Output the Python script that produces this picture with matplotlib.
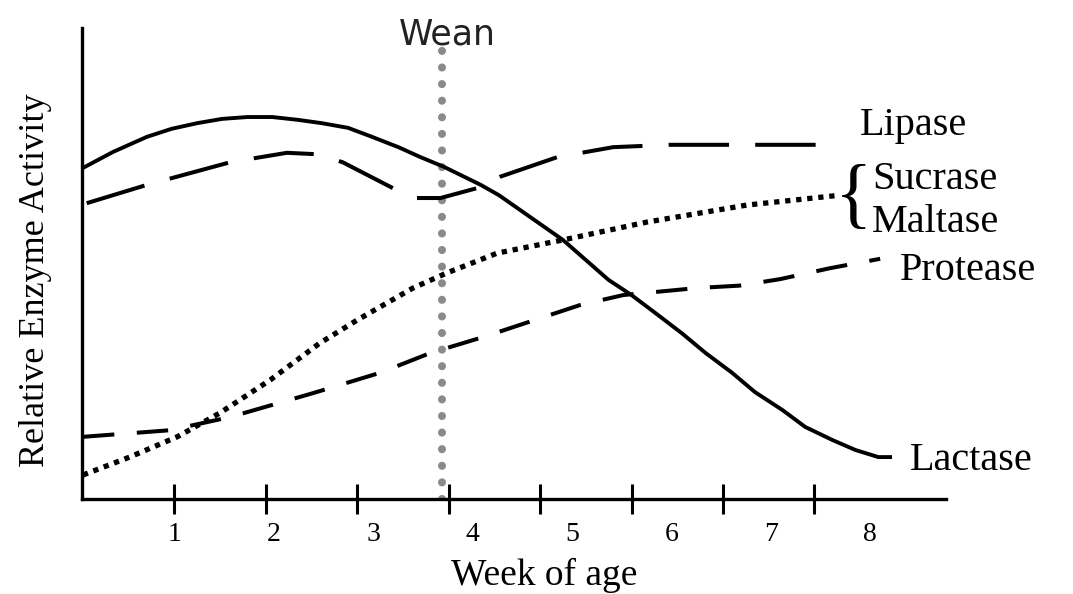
import matplotlib
matplotlib.use("Agg")
import matplotlib.pyplot as plt

# ---- data (weeks of age, relative activity 0-100) ----
lactase_x = [0.0, 0.33, 0.7, 0.97, 1.25, 1.52, 1.8, 2.07, 2.35, 2.61, 2.9, 3.16, 3.45, 3.69, 3.95,
             4.35, 4.55, 5.25, 5.75, 6.0, 6.26, 6.55, 6.81, 7.1, 7.35, 7.65, 7.9, 8.2, 8.45, 8.7, 8.85]
lactase_y = [70.3, 73.7, 76.9, 78.6, 79.8, 80.7, 81.1, 81.1, 80.5, 79.8, 78.8, 76.9, 74.7, 72.6, 70.5,
             66.7, 64.5, 55.0, 46.5, 43.3, 39.5, 35.2, 31.0, 26.8, 22.7, 18.9, 15.3, 12.5, 10.4, 8.9, 8.9]

lipase_x = [0.04, 0.7, 1.61, 2.23, 2.56, 2.84, 3.39, 3.65, 3.91, 4.31, 4.56, 5.19, 5.8, 6.42, 8.1]
lipase_y = [62.8, 66.7, 71.5, 73.5, 73.2, 71.5, 66.0, 63.9, 63.9, 66.0, 68.4, 72.6, 74.7, 75.2, 75.2]

sucrase_x = [0.0, 0.51, 1.03, 1.5, 2.05, 2.59, 3.0, 3.61, 3.98, 4.53, 5.25, 6.17, 7.26, 8.28]
sucrase_y = [5.1, 8.9, 13.2, 18.3, 25.3, 33.1, 38.0, 44.8, 48.0, 52.2, 55.0, 58.8, 62.4, 64.5]

protease_x = [0.0, 0.95, 1.61, 2.52, 3.25, 3.8, 4.38, 5.44, 5.91, 6.72, 7.18, 7.63, 8.17, 8.72]
protease_y = [13.2, 14.6, 17.4, 22.5, 26.8, 31.0, 34.4, 41.2, 43.3, 44.8, 45.3, 46.7, 49.0, 51.0]

wean_week = 3.93
weeks = [1, 2, 3, 4, 5, 6, 7, 8]
week_labels = ["1", "2", "3", "4", "5", "6", "7", "8"]

serif = ["Liberation Serif", "DejaVu Serif"]

fig = plt.figure(figsize=(10.73, 5.94), dpi=100)
ax = fig.add_axes([82 / 1073, 95 / 594, 864 / 1073, 471 / 594])
ax.set_xlim(-0.011, 9.44)
ax.set_ylim(0, 100)

for s in ["top", "right"]:
    ax.spines[s].set_visible(False)
for s in ["left", "bottom"]:
    ax.spines[s].set_linewidth(2.4)
    ax.spines[s].set_color("black")

ax.set_yticks([])
ax.set_xticks(weeks)
ax.set_xticklabels([])
ax.tick_params(axis="x", direction="inout", length=22, width=2.2, color="black")

# wean line
ax.plot([wean_week, wean_week], [0, 96.3], color="#8a8a8a", lw=5.8,
        dashes=(0.01, 2.05), solid_capstyle="round", dash_capstyle="round", zorder=1)

# curves
ax.plot(lactase_x, lactase_y, color="black", lw=2.8, solid_capstyle="butt",
        solid_joinstyle="round", zorder=3)
ax.plot(lipase_x, lipase_y, color="black", lw=2.9, dashes=(15, 6.5), zorder=3)
ax.plot(sucrase_x, sucrase_y, color="black", lw=3.8, dashes=(1, 1.1), zorder=3)
ax.plot(protease_x, protease_y, color="black", lw=2.9, dashes=(7.8, 5.6), zorder=3)

# tick labels (placed slightly right of ticks as in the reference)
for i, lab in enumerate(week_labels):
    ax.text(1 + i * 1.0875, -0.076, lab, transform=ax.get_xaxis_transform(),
            ha="center", va="center", fontsize=20, family=serif)

ax.text(0.535, -0.163, "Week of age", transform=ax.transAxes, ha="center", va="center",
        fontsize=27, family=serif)
ax.text(-0.054, 0.465, "Relative Enzyme Activity", transform=ax.transAxes, ha="center",
        va="center", rotation=90, fontsize=26, family=serif)

ax.text(wean_week + 0.06, 98.6, "Wean", ha="center", va="center", fontsize=25,
        family=["DejaVu Sans"], color="#222222")

ax.text(8.5, 79.4, "Lipase", ha="left", va="center", fontsize=29, family=serif)
ax.text(8.63, 67.9, "Sucrase", ha="left", va="center", fontsize=29, family=serif)
ax.text(8.63, 58.8, "Maltase", ha="left", va="center", fontsize=29, family=serif)
ax.text(8.94, 48.6, "Protease", ha="left", va="center", fontsize=29, family=serif)
ax.text(9.05, 8.1, "Lactase", ha="left", va="center", fontsize=29, family=serif)
ax.text(8.43, 63.5, "{", ha="center", va="center", fontsize=56, family=serif)

fig.savefig("out.png", dpi=100)
